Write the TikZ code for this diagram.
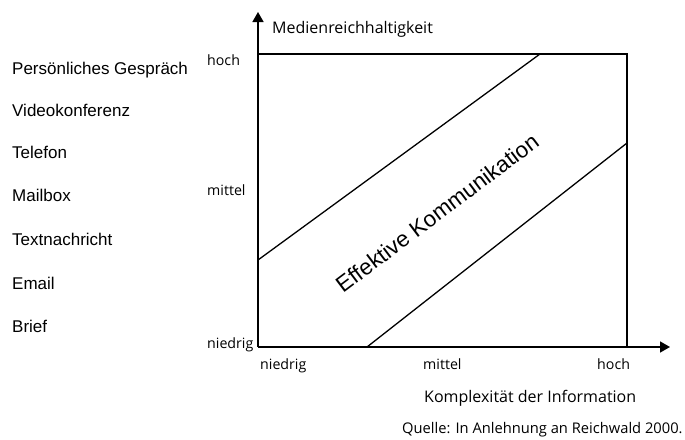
\documentclass[tikz,border=0pt]{standalone}
\usepackage{fontspec}
\setmainfont{Liberation Sans}
\newfontfamily\segoe{Open Sans}
\usetikzlibrary{arrows.meta}
\tikzset{
  listitem/.style={anchor=mid west, inner sep=0pt, font=\fontsize{17}{20}\selectfont},
  ticklbl/.style={anchor=mid west, inner sep=0pt, font=\segoe\fontsize{14.2}{17}\selectfont},
  axtitle/.style={anchor=mid west, inner sep=0pt, font=\segoe\fontsize{16}{19}\selectfont},
  srclbl/.style={anchor=mid west, inner sep=0pt, font=\segoe\fontsize{14.7}{18}\selectfont},
  axisline/.style={line width=1.6pt, -{Triangle[length=10pt,width=11pt]}},
  frameline/.style={line width=1.5pt},
  diagline/.style={line width=1.3pt},
}
\begin{document}
\begin{tikzpicture}[x=1pt,y=-1pt]
\useasboundingbox (0,0) rectangle (685,439);
% coordinates
\coordinate (O) at (258,347);
\coordinate (Ytip) at (258,12);
\coordinate (Xtip) at (670,347);
\coordinate (TL) at (258,54);
\coordinate (TR) at (627,54);
\coordinate (BR) at (627,347);
\coordinate (U1) at (258,260);
\coordinate (U2) at (540,54);
\coordinate (L1) at (367,347);
\coordinate (L2) at (627,143);
% frame and axes
\draw[frameline] (TL) -- (TR) -- (BR);
\draw[diagline] (U1) -- (U2);
\draw[diagline] (L1) -- (L2);
\draw[axisline] (O) -- (Ytip);
\draw[axisline] (O) -- (Xtip);
% list
\node[listitem] (p1) at (12,72) {Persönliches Gespräch};
\node[listitem] (p2) at (12,114) {Videokonferenz};
\node[listitem] (p3) at (12,156) {Telefon};
\node[listitem] (p4) at (12,199) {Mailbox};
\node[listitem] (p5) at (12,243) {Textnachricht};
\node[listitem] (p6) at (12,287) {Email};
\node[listitem] (p7) at (12,330) {Brief};
% y ticks
\node[ticklbl] (yh) at (207,63) {hoch};
\node[ticklbl] (ym) at (207,193) {mittel};
\node[ticklbl] (yn) at (207,346) {niedrig};
% x ticks
\node[ticklbl] (xn) at (260,367) {niedrig};
\node[ticklbl] (xm) at (423,367) {mittel};
\node[ticklbl] (xh) at (597,367) {hoch};
% titles
\node[axtitle] (yt) at (272,31) {Medienreichhaltigkeit};
\node[axtitle] (xt) at (424,400) {Komplexität der Information};
\node[srclbl] (src) at (402,431) {Quelle: In Anlehnung an Reichwald 2000.};
% band label
\node[inner sep=0pt, rotate=37, font=\fontsize{22.5}{26}\selectfont] (eff) at (437,213) {Effektive Kommunikation};
\end{tikzpicture}
\end{document}
